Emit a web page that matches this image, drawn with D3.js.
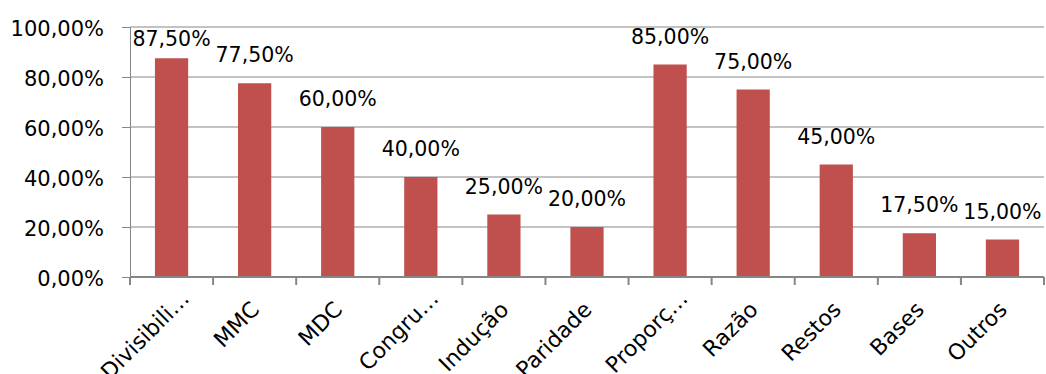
<!DOCTYPE html>
<html lang="en">
  <head>
    <meta charset="utf-8">
    <title>Conteúdos</title>
    <script src="https://d3js.org/d3.v7.min.js"></script>
    <style>
      body { margin: 0; background: white; }
      text { font-family: "DejaVu Sans", sans-serif; fill: #000; }
    </style>
  </head>
  <body>
    <script type="text/javascript">

      // data
      var categories = ["Divisibili…", "MMC", "MDC", "Congru…", "Indução", "Paridade", "Proporç…", "Razão", "Restos", "Bases", "Outros"];
      var values = [87.5, 77.5, 60, 40, 25, 20, 85, 75, 45, 17.5, 15];
      var yTicks = [0, 20, 40, 60, 80, 100];

      var w = 1046;
      var h = 374;
      var margin = {top: 27, right: 2, bottom: 97, left: 130};
      var innerWidth = w - margin.left - margin.right;
      var innerHeight = h - margin.top - margin.bottom;
      var axisColor = "#868686";

      var fmt = function(v) { return v.toFixed(2).replace(".", ",") + "%"; };

      var svg = d3.select("body")
        .append("svg")
          .attr("width", w)
          .attr("height", h);

      var xScale = d3.scaleBand()
          .domain(categories)
          .range([0, innerWidth])
          .padding(0);

      var yScale = d3.scaleLinear()
          .domain([0, 100])
          .range([innerHeight, 0]);

      var g = svg.append("g")
          .attr("transform", `translate(${margin.left}, ${margin.top})`);

      // gridlines
      g.selectAll(".grid")
        .data(yTicks.filter(d => d > 0))
        .enter().append("line")
          .attr("x1", 0)
          .attr("x2", innerWidth)
          .attr("y1", d => yScale(d))
          .attr("y2", d => yScale(d))
          .attr("stroke", axisColor)
          .attr("stroke-width", 1);

      // bars
      var bw = xScale.bandwidth();
      g.selectAll(".bar")
        .data(values)
        .enter().append("rect")
          .attr("x", (d, i) => xScale(categories[i]) + bw * 0.3)
          .attr("y", d => yScale(d))
          .attr("width", bw * 0.4)
          .attr("height", d => innerHeight - yScale(d))
          .attr("fill", "#C0504D");

      // data labels
      g.selectAll(".lbl")
        .data(values)
        .enter().append("text")
          .attr("x", (d, i) => xScale(categories[i]) + bw / 2)
          .attr("y", function(d) {
            var y = yScale(d) - 21;
            return y < 14 ? 19 : y;
          })
          .attr("text-anchor", "middle")
          .style("font-size", "20.5px")
          .text(d => fmt(d));

      // y axis
      var yAxis = d3.axisLeft(yScale)
          .tickValues(yTicks)
          .tickSize(8)
          .tickPadding(18)
          .tickFormat(d => fmt(d));

      var ya = g.append("g").call(yAxis);
      ya.selectAll("line, path").attr("stroke", axisColor);
      ya.select(".domain").attr("d", `M-8,0.5H0.5V${innerHeight}`);
      ya.selectAll("text")
          .style("font-size", "21px")
          .attr("dy", "0.4em");

      // x axis
      var xa = g.append("g")
          .attr("transform", `translate(0, ${innerHeight})`);
      xa.append("line")
          .attr("x1", 0).attr("x2", innerWidth)
          .attr("y1", 0).attr("y2", 0)
          .attr("stroke", axisColor).attr("stroke-width", 2);
      xa.selectAll(".tk")
        .data(d3.range(categories.length + 1))
        .enter().append("line")
          .attr("x1", i => i * bw)
          .attr("x2", i => i * bw)
          .attr("y1", 0)
          .attr("y2", 8)
          .attr("stroke", axisColor)
          .attr("stroke-width", 2);

      xa.selectAll(".xl")
        .data(categories)
        .enter().append("text")
          .attr("transform", function(d) {
            var cut = d.endsWith("…");
            var x = xScale(d) + bw / 2 + (cut ? 19 : 6);
            var y = cut ? 23 : 34;
            return `translate(${x}, ${y}) rotate(-45)`;
          })
          .attr("text-anchor", "end")
          .style("font-size", "22px")
          .text(d => d);

    </script>
  </body>
</html>
